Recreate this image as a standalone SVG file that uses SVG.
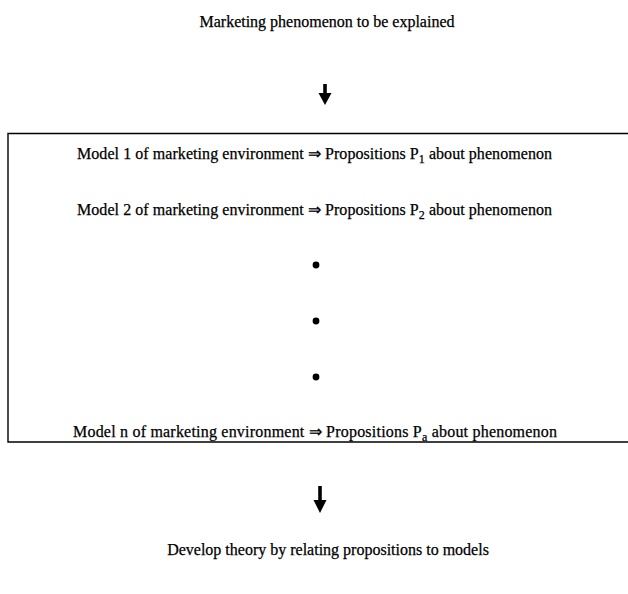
<svg xmlns="http://www.w3.org/2000/svg" width="628" height="594" viewBox="0 0 628 594">
<style>
text{font-family:"Liberation Serif","Times New Roman",serif;font-size:16px;fill:#000;stroke:#000;stroke-width:0.25}
.sub{font-size:12px}
.frame{fill:none;stroke:#000;stroke-width:1.4}
.shaft{stroke:#000;stroke-width:3.6;fill:none}
.head{fill:#000}
</style>
<rect width="628" height="594" fill="#fff"/>
<g id="top"><text x="327" y="27" text-anchor="middle">Marketing phenomenon to be explained</text></g>
<g id="box">
<path class="frame" d="M640,133.5 H8 V442 H640"/>
<text id="m1" x="77" y="159" textLength="475" lengthAdjust="spacing">Model 1 of marketing environment ⇒ Propositions P<tspan class="sub" dy="4">1</tspan><tspan dy="-4"> about phenomenon</tspan></text>
<text id="m2" x="77" y="215" textLength="475" lengthAdjust="spacing">Model 2 of marketing environment ⇒ Propositions P<tspan class="sub" dy="4">2</tspan><tspan dy="-4"> about phenomenon</tspan></text>
<circle cx="316" cy="265" r="3.4"/>
<circle cx="316" cy="321" r="3.4"/>
<circle cx="316" cy="377" r="3.4"/>
<text id="mn" x="73" y="437" textLength="484" lengthAdjust="spacing">Model n of marketing environment ⇒ Propositions P<tspan class="sub" dy="4">a</tspan><tspan dy="-4"> about phenomenon</tspan></text>
</g>
<g id="bottom"><text x="328" y="555" text-anchor="middle">Develop theory by relating propositions to models</text></g>
<g id="connectors">
<line class="shaft" x1="325" y1="84" x2="325" y2="97"/>
<path class="head" d="M318.5,93 L331.5,93 L325,105 Z"/>
<line class="shaft" x1="320" y1="486" x2="320" y2="504"/>
<path class="head" d="M313.5,500 L326.5,500 L320,513 Z"/>
</g>
</svg>
